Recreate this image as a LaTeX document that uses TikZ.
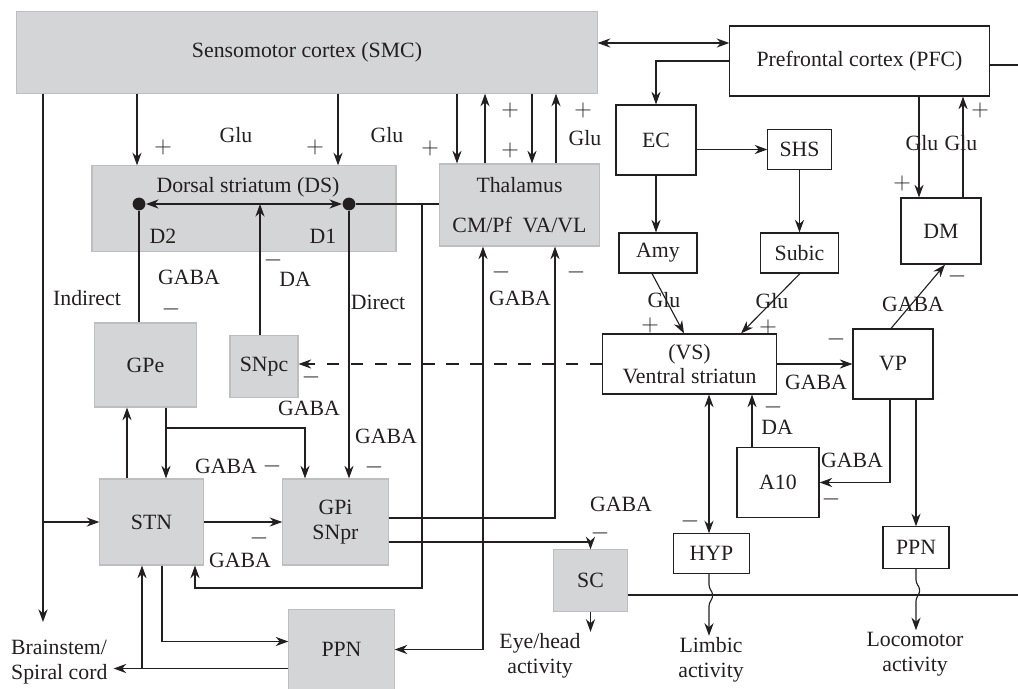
\documentclass[tikz,border=0pt]{standalone}
\usepackage{fontspec}
\setmainfont{Liberation Serif}
\usetikzlibrary{arrows.meta,positioning,calc,decorations.pathmorphing}

\definecolor{boxgray}{HTML}{D4D5D7}
\definecolor{rimgray}{HTML}{BDBEC0}
\definecolor{ink}{HTML}{231F20}

\begin{document}
\begin{tikzpicture}[
    x=0.025cm, y=-0.025cm,
    font=\fontsize{15.5}{17.5}\selectfont,
    color=ink, line width=0.8pt,
    >={Stealth[length=9pt,width=6.5pt]},
    gbox/.style={rectangle, draw=rimgray, fill=boxgray, inner sep=0pt, align=center},
    wbox/.style={rectangle, draw=ink, fill=white, inner sep=0pt, align=center},
    lbl/.style={inner sep=1pt, align=center},
    sign/.style={inner sep=0pt, font=\fontsize{19}{19}\selectfont, text height=9.5pt, text depth=0pt},
    dot/.style={circle, fill=ink, inner sep=0pt, minimum size=0.32cm},
    arrow/.style={->},
    twoway/.style={<->},
    dashline/.style={->, dash pattern=on 9pt off 8pt},
    wavy/.style={->, decorate, decoration={snake, amplitude=2.6pt, segment length=24pt, pre length=8pt, post length=15pt}}
]
    \useasboundingbox (0,0) rectangle (1018,689);

    % Cortex
    \node[gbox, minimum width=14.5cm, minimum height=2.03cm] (smc) at (307,52.5) {Sensomotor cortex (SMC)};
    \node[wbox, minimum width=6.48cm, minimum height=1.75cm] (pfc) at (859.5,61) {Prefrontal cortex (PFC)};

    % Limbic side
    \node[wbox, minimum width=2cm, minimum height=1.75cm] (ec) at (656,140) {EC};
    \node[wbox, minimum width=1.58cm, minimum height=0.98cm] (shs) at (799.5,149.5) {SHS};
    \node[wbox, minimum width=2cm, minimum height=1.65cm] (dm) at (941,231) {DM};
    \node[wbox, minimum width=1.95cm, minimum height=1cm] (amy) at (658,253) {Amy};
    \node[wbox, minimum width=1.93cm, minimum height=1cm] (subic) at (799.5,253) {Subic};
    \node[wbox, minimum width=4.33cm, minimum height=1.5cm] (vs) at (689.5,364) {(VS)\\Ventral striatun};
    \node[wbox, minimum width=2cm, minimum height=1.75cm] (vp) at (893,364) {VP};
    \node[wbox, minimum width=2.05cm, minimum height=1.73cm] (a10) at (778,482.5) {A10};
    \node[wbox, minimum width=1.88cm, minimum height=0.98cm] (hyp) at (711.5,553.5) {HYP};
    \node[wbox, minimum width=1.65cm, minimum height=1.03cm] (ppnr) at (916,547.5) {PPN};
    \node[gbox, minimum width=1.83cm, minimum height=1.53cm] (sc) at (590.5,580.5) {SC};

    % Motor side
    \node[gbox, minimum width=7.6cm, minimum height=2.13cm] (ds) at (244,208.5) {};
    \node[lbl] (dstxt) at (248,187) {Dorsal striatum (DS)};
    \node[dot] (d2) at (139,204) {};
    \node[dot] (d1) at (349,204) {};
    \node[lbl] (d2txt) at (163,236) {D2};
    \node[lbl] (d1txt) at (323,236) {D1};
    \node[gbox, minimum width=3.98cm, minimum height=2.05cm] (thal) at (519.5,205) {Thalamus\\[0.4cm]CM/Pf\enspace VA/VL};
    \node[gbox, minimum width=2.53cm, minimum height=2.1cm] (gpe) at (145.5,365) {GPe};
    \node[gbox, minimum width=1.7cm, minimum height=1.53cm] (snpc) at (264,366.5) {SNpc};
    \node[gbox, minimum width=2.58cm, minimum height=2.15cm] (stn) at (151.5,522) {STN};
    \node[gbox, minimum width=2.63cm, minimum height=2.15cm] (gpi) at (335.5,522) {GPi\\SNpr};
    \node[gbox, minimum width=2.63cm, minimum height=1.98cm] (ppnl) at (341.5,649.5) {PPN};

    % Outputs
    \node[lbl, inner sep=4pt, align=left, anchor=west] (brain) at (5,662) {Brainstem/\\Spiral cord};
    \node[lbl] (eye) at (540,656) {Eye/head\\activity};
    \node[lbl] (limbic) at (711,660) {Limbic\\activity};
    \node[lbl] (loco) at (915,654) {Locomotor\\activity};
    \node[lbl] (indirect) at (87,298) {Indirect};
    \node[lbl] (direct) at (378,302) {Direct};
    \coordinate (pfcrim) at (1018,65);
    \coordinate (scrim) at (1018,595);
    \coordinate (ppnlo) at ($(ppnl.west)+(0,19)$);

    % Cortex connections
    \draw[twoway] ($(smc.east)+(0,-9.5)$) -- ($(pfc.west)+(0,-18)$);
    \draw[arrow] (pfc.west) -| (ec.north);
    \draw (pfc.east |- pfcrim) -- (pfcrim);
    \draw[arrow] (smc.south -| 137,0) -- (ds.north -| 137,0);
    \draw[arrow] (smc.south -| 338,0) -- (ds.north -| 338,0);
    \draw[arrow] (smc.south -| 457,0) -- (thal.north -| 457,0);
    \draw[arrow] (thal.north -| 485,0) -- (smc.south -| 485,0);
    \draw[arrow] (smc.south -| 532,0) -- (thal.north -| 532,0);
    \draw[arrow] (thal.north -| 556,0) -- (smc.south -| 556,0);
    \draw[arrow, shorten >=0.3cm] (smc.south -| 43,0) -- (brain.north -| 43,0);
    \draw[arrow] (stn.west -| 43,0) -- (stn.west);

    % Striatum
    \draw[twoway] (d2) -- (d1);
    \draw (d1) -- (thal.west |- d1);
    \draw[arrow] (snpc.north -| 260,0) -- (d2 -| 260,0);
    \draw (d2) -- (gpe.north -| d2);
    \draw[arrow] (d1) -- (gpi.north -| d1);
    \draw[arrow] (d1 -| 422,0) -- (422,588) -| (stn.south -| 195,0);

    % Basal ganglia loop
    \draw[arrow] (gpe.south -| 166,0) -- (stn.north -| 166,0);
    \draw[arrow] (166,428) -| (gpi.north -| 305,0);
    \draw[arrow] (stn.north -| 127,0) -- (gpe.south -| 127,0);
    \draw[arrow] (stn.east) -- (gpi.west);
    \draw[arrow] ([yshift=0.1cm]gpi.east) -| (thal.south -| 555,0);
    \draw[twoway] (ppnl.east) -| (thal.south -| 483,0);
    \draw[arrow] ([yshift=-0.5cm]gpi.east) -| (sc.north);
    \draw[arrow] (stn.south -| 162,0) |- ([yshift=0.2cm]ppnl.west);
    \draw[arrow] (ppnlo) -- (brain.east |- ppnlo);
    \draw[arrow] (ppnlo -| 142,0) -- (stn.south -| 142,0);
    \draw[arrow] (sc.south) -- (sc.south |- eye.north);
    \draw (sc.east |- scrim) -- (scrim);

    % Limbic connections
    \draw[arrow] (ec.east |- shs.west) -- (shs.west);
    \draw[arrow] (shs.south) -- (subic.north);
    \draw[arrow] (ec.south) -- (ec.south |- amy.north);
    \draw[arrow] (pfc.south -| 919,0) -- (dm.north -| 919,0);
    \draw[arrow] (dm.north -| 963,0) -- (pfc.south -| 963,0);
    \draw[arrow] (amy.south -| 652,0) -- (vs.north -| 684,0);
    \draw[arrow] (subic.south -| 800,0) -- (vs.north -| 741,0);
    \draw[arrow] (vs.east) -- (vp.west);
    \draw[arrow] (vp.north -| 891,0) -- (dm.south -| 945,0);
    \draw[arrow] (a10.north -| 752,0) -- (vs.south -| 752,0);
    \draw[arrow] (vp.south -| 890,0) |- (a10.east);
    \draw[arrow] (vp.south -| ppnr.north) -- (ppnr.north);
    \draw[twoway] (vs.south -| 709,0) -- (hyp.north -| 709,0);
    \draw[dashline] (vs.west) -- (snpc.east |- vs.west);
    \draw[wavy] (hyp.south -| 709,0) -- (limbic.north -| 709,0);
    \draw[wavy] (ppnr.south) -- (loco.north -| ppnr.south);

    % Transmitters and signs
    \node[lbl] (glu1) at (236,135) {Glu};
    \node[sign] (plus1) at (163,147) {$+$};
    \node[sign] (plus2) at (315,147) {$+$};
    \node[lbl] (glu2) at (387,135) {Glu};
    \node[sign] (plus3) at (430,148) {$+$};
    \node[sign] (plus4) at (510,110) {$+$};
    \node[sign] (plus5) at (510,150) {$+$};
    \node[sign] (plus6) at (583,110) {$+$};
    \node[lbl] (glu3) at (585,138) {Glu};
    \node[lbl] (glu4) at (922,143) {Glu};
    \node[lbl] (glu5) at (961,143) {Glu};
    \node[sign] (plus7) at (902,183) {$+$};
    \node[sign] (plus8) at (980,110) {$+$};
    \node[lbl] (glu6) at (664,300) {Glu};
    \node[sign] (plus9) at (650,325) {$+$};
    \node[lbl] (glu7) at (772,301) {Glu};
    \node[sign] (plus10) at (768,327) {$+$};
    \node[lbl] (gaba1) at (816,382) {GABA};
    \node[sign] (minus1) at (836,339) {$-$};
    \node[lbl] (gaba2) at (913,304) {GABA};
    \node[sign] (minus2) at (957,276) {$-$};
    \node[lbl] (da1) at (777,427) {DA};
    \node[sign] (minus3) at (773,407) {$-$};
    \node[lbl] (gaba3) at (852,460) {GABA};
    \node[sign] (minus4) at (831,499) {$-$};
    \node[sign] (minus5) at (690,521) {$-$};
    \node[lbl] (gaba4) at (621,504) {GABA};
    \node[sign] (minus6) at (600,533) {$-$};
    \node[sign] (minus7) at (501,272) {$-$};
    \node[sign] (minus8) at (576,272) {$-$};
    \node[lbl] (gaba5) at (520,298) {GABA};
    \node[lbl] (gaba6) at (386,436) {GABA};
    \node[sign] (minus9) at (374,467) {$-$};
    \node[lbl] (gaba7) at (226,466) {GABA};
    \node[sign] (minus10) at (272,466) {$-$};
    \node[lbl] (gaba8) at (309,408) {GABA};
    \node[sign] (minus11) at (311,377) {$-$};
    \node[lbl] (da2) at (295,279) {DA};
    \node[sign] (minus12) at (273,260) {$-$};
    \node[lbl] (gaba9) at (189,277) {GABA};
    \node[sign] (minus13) at (171,309) {$-$};
    \node[sign] (minus14) at (259,538) {$-$};
    \node[lbl] (gaba10) at (240,560) {GABA};
\end{tikzpicture}
\end{document}
